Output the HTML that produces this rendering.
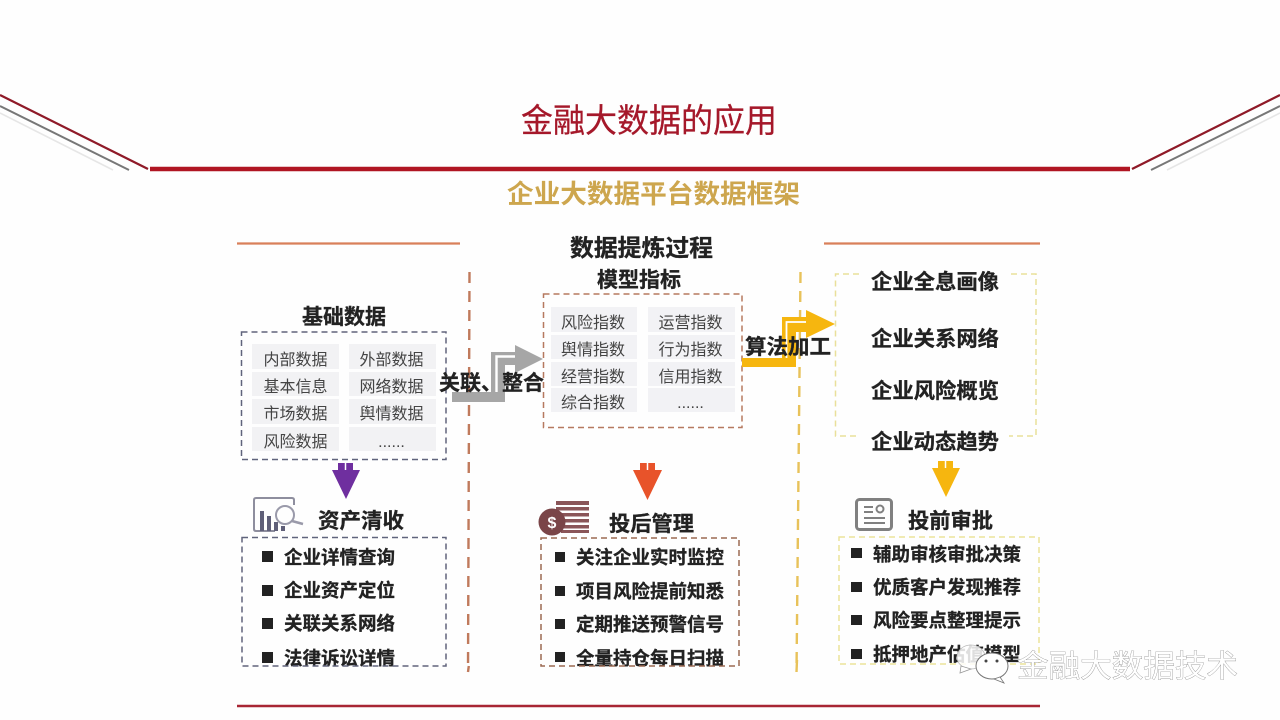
<!DOCTYPE html>
<html lang="zh"><head><meta charset="utf-8"><style>
html,body{margin:0;padding:0;background:#fefefe;width:1280px;height:720px;overflow:hidden}
svg{display:block;filter:blur(.35px)}
text{font-family:"Liberation Sans","Noto Sans CJK SC",sans-serif;fill:#222}
.b{font-weight:700}
.c{font-size:16px;fill:#444;font-weight:400;text-anchor:middle}
.h{font-size:21px;font-weight:700;fill:#222;stroke:#222;stroke-width:.3}
.l{font-size:18.5px;font-weight:700;fill:#222;stroke:#222;stroke-width:.3}
.d{fill:none;stroke-width:1.500;stroke-dasharray:6 4}
</style></head><body>
<svg width="1280" height="720" viewBox="0 0 1280 720" xmlns="http://www.w3.org/2000/svg">
<rect width="1280" height="720" fill="#fefefe"/>
<!-- header lines -->
<g fill="none">
<line x1="150" y1="169" x2="1130" y2="169" stroke="#b01522" stroke-width="4.500"/>
<line x1="0" y1="95" x2="148" y2="169" stroke="#8f1a28" stroke-width="2.200"/>
<line x1="1280" y1="95" x2="1132" y2="169" stroke="#8f1a28" stroke-width="2.200"/>
<line x1="0" y1="106" x2="129" y2="170" stroke="#777" stroke-width="2"/>
<line x1="1280" y1="106" x2="1151" y2="170" stroke="#777" stroke-width="2"/>
<line x1="0" y1="113" x2="113" y2="170" stroke="#e6e6e6" stroke-width="1.600"/>
<line x1="1280" y1="113" x2="1167" y2="170" stroke="#e6e6e6" stroke-width="1.600"/>
<line x1="237" y1="243.500" x2="460" y2="243.500" stroke="#d9805a" stroke-width="2.200"/>
<line x1="824" y1="243.500" x2="1040" y2="243.500" stroke="#d9805a" stroke-width="2.200"/>
<line x1="237" y1="706" x2="1040" y2="706" stroke="#a82634" stroke-width="2.600"/>
<line x1="469.500" y1="272" x2="468" y2="672" stroke="#c07a5c" stroke-width="2.400" stroke-dasharray="11 8"/>
<line x1="800.500" y1="272" x2="796.500" y2="672" stroke="#e8c25a" stroke-width="2.400" stroke-dasharray="11 8"/>
</g>
<text x="521" y="132" font-size="33" textLength="256" lengthAdjust="spacingAndGlyphs" style="fill:#a5182a;stroke:#a5182a;stroke-width:.25">金融大数据的应用</text>
<text x="507" y="203" font-size="26" class="b" style="fill:#cda64e" textLength="293" lengthAdjust="spacingAndGlyphs">企业大数据平台数据框架</text>
<text x="570" y="256" font-size="23.500" class="b" style="stroke:#222;stroke-width:.3" textLength="143" lengthAdjust="spacingAndGlyphs">数据提炼过程</text>
<text x="597" y="287" class="h" textLength="84" lengthAdjust="spacingAndGlyphs">模型指标</text>
<text x="302" y="324" class="h" textLength="84" lengthAdjust="spacingAndGlyphs">基础数据</text>

<!-- basic data cells -->
<g fill="#f2f2f4">
<rect x="252" y="344" width="87" height="25"/><rect x="349" y="344" width="87" height="25"/>
<rect x="252" y="372" width="87" height="24"/><rect x="349" y="372" width="87" height="24"/>
<rect x="252" y="399" width="87" height="25"/><rect x="349" y="399" width="87" height="25"/>
<rect x="252" y="427" width="87" height="24"/><rect x="349" y="427" width="87" height="24"/>
</g>
<text class="c" x="295.500" y="365">内部数据</text><text class="c" x="391.500" y="365">外部数据</text>
<text class="c" x="295.500" y="392">基本信息</text><text class="c" x="391.500" y="392">网络数据</text>
<text class="c" x="295.500" y="419">市场数据</text><text class="c" x="391.500" y="419">舆情数据</text>
<text class="c" x="295.500" y="447">风险数据</text><text class="c" x="391.500" y="447">......</text>
<rect x="241.500" y="332" width="204.500" height="127.500" class="d" stroke="#60647c"/>

<!-- model cells -->
<g fill="#f2f2f5">
<rect x="551" y="307" width="86" height="25"/><rect x="648" y="307" width="87" height="25"/>
<rect x="551" y="335" width="86" height="24"/><rect x="648" y="335" width="87" height="24"/>
<rect x="551" y="362" width="86" height="24"/><rect x="648" y="362" width="87" height="24"/>
<rect x="551" y="388" width="86" height="24"/><rect x="648" y="388" width="87" height="24"/>
</g>
<text class="c" x="593" y="328">风险指数</text><text class="c" x="690.500" y="328">运营指数</text>
<text class="c" x="593" y="355">舆情指数</text><text class="c" x="690.500" y="355">行为指数</text>
<text class="c" x="593" y="382">经营指数</text><text class="c" x="690.500" y="382">信用指数</text>
<text class="c" x="593" y="408">综合指数</text><text class="c" x="690.500" y="408">......</text>
<rect x="543.500" y="294" width="198.500" height="133.500" class="d" stroke="#b5795f"/>

<!-- gray arrow -->
<polygon points="452,402 505,402 505,365 515,365 515,373 543,359 515,345 515,352 491,352 491,392 452,392" fill="#a6a6a6"/>
<polyline points="496.500,392 496.500,356.500 515,356.500" fill="none" stroke="#fff" stroke-width="2.400"/>
<text x="439" y="390" class="h" textLength="105" lengthAdjust="spacingAndGlyphs">关联、整合</text>

<!-- yellow arrow -->
<polygon points="742,367 796,367 796,332 806,332 806,338 835,324 806,310 806,317 782,317 782,358 742,358" fill="#f6b60f"/>
<polyline points="786.500,358 786.500,322 806,322" fill="none" stroke="#fff" stroke-width="1.800"/>
<text x="745" y="354" class="h" textLength="86" lengthAdjust="spacingAndGlyphs">算法加工</text>

<!-- right box -->
<path d="M859 274 H835.500 V436 H859 M1011 274 H1036 V436 H1009" class="d" stroke="#e9e09a" stroke-dasharray="5 4" stroke-width="1.100"/>
<text x="871" y="289" class="h" textLength="128" lengthAdjust="spacingAndGlyphs">企业全息画像</text>
<text x="871" y="346" class="h" textLength="128" lengthAdjust="spacingAndGlyphs">企业关系网络</text>
<text x="871" y="398" class="h" textLength="128" lengthAdjust="spacingAndGlyphs">企业风险概览</text>
<text x="871" y="449" class="h" textLength="128" lengthAdjust="spacingAndGlyphs">企业动态趋势</text>

<!-- down arrows -->
<polygon points="338,463 353,463 353,470 360,470 346,499 332,470 338,470" fill="#6f2f9f"/>
<line x1="345.500" y1="463" x2="345.500" y2="470" stroke="#fff" stroke-width="1.500"/>
<polygon points="640,463 655,463 655,470 662,470 647.500,500 633,470 640,470" fill="#e8532a"/>
<line x1="647.500" y1="463" x2="647.500" y2="470" stroke="#fff" stroke-width="1.500"/>
<polygon points="938,461 953,461 953,468 960,468 946,497 932,468 938,468" fill="#f6b60f"/>
<line x1="945.500" y1="461" x2="945.500" y2="468" stroke="#fff" stroke-width="1.500"/>

<!-- icons -->
<g>
<path d="M275 531 H256 Q254 531 254 529 V500 Q254 498 256 498 H292 Q294 498 294 500 V505" fill="none" stroke="#8e8e9e" stroke-width="2"/>
<g fill="#5f5f78"><rect x="260" y="511" width="4" height="20"/><rect x="267" y="516" width="4" height="15"/><rect x="274" y="522" width="4" height="9"/><rect x="281" y="526" width="4" height="5"/></g>
<circle cx="285" cy="515" r="9" fill="#fefefe" stroke="#9a9aaa" stroke-width="2"/>
<line x1="292" y1="521" x2="303" y2="524" stroke="#9a9aaa" stroke-width="2.500"/>
</g>
<g fill="#8a5558">
<rect x="556" y="501" width="33" height="4"/><rect x="556" y="507" width="33" height="3.500"/><rect x="561" y="513" width="28" height="3.500"/><rect x="564" y="519" width="25" height="3.500"/><rect x="564" y="525" width="25" height="3.500"/><rect x="561" y="530" width="28" height="3"/>
<circle cx="552" cy="522" r="13.500" fill="#7a4548"/>
</g>
<text x="552" y="528" font-size="16" class="b" text-anchor="middle" style="fill:#fff">$</text>
<g fill="none" stroke="#808080">
<rect x="856.500" y="499.500" width="35" height="30" rx="3" stroke-width="3"/>
<path d="M864 507 H873 M864 512 H873 M864 518 H885 M864 523 H885" stroke-width="2"/>
<circle cx="880" cy="509" r="3.500" stroke-width="2"/>
</g>
<text x="318" y="528" class="h" textLength="86" lengthAdjust="spacingAndGlyphs">资产清收</text>
<text x="609" y="531" class="h" textLength="85" lengthAdjust="spacingAndGlyphs">投后管理</text>
<text x="908" y="528" class="h" textLength="85" lengthAdjust="spacingAndGlyphs">投前审批</text>

<!-- bullets -->
<g fill="#222">
<rect x="262" y="551" width="11" height="11"/><rect x="262" y="585" width="11" height="11"/><rect x="262" y="618" width="11" height="11"/><rect x="262" y="652" width="11" height="11"/>
<rect x="555" y="552" width="10" height="10"/><rect x="555" y="586" width="10" height="10"/><rect x="555" y="619" width="10" height="10"/><rect x="555" y="652" width="10" height="10"/>
<rect x="851" y="548" width="11" height="10"/><rect x="851" y="582" width="11" height="10"/><rect x="851" y="615" width="11" height="10"/><rect x="851" y="649" width="11" height="10"/>
</g>
<text x="284" y="564" class="l" textLength="111" lengthAdjust="spacingAndGlyphs">企业详情查询</text>
<text x="284" y="597" class="l" textLength="111" lengthAdjust="spacingAndGlyphs">企业资产定位</text>
<text x="284" y="630" class="l" textLength="111" lengthAdjust="spacingAndGlyphs">关联关系网络</text>
<text x="284" y="665" class="l" textLength="111" lengthAdjust="spacingAndGlyphs">法律诉讼详情</text>
<text x="576" y="564" class="l" textLength="148" lengthAdjust="spacingAndGlyphs">关注企业实时监控</text>
<text x="576" y="598" class="l" textLength="148" lengthAdjust="spacingAndGlyphs">项目风险提前知悉</text>
<text x="576" y="631" class="l" textLength="148" lengthAdjust="spacingAndGlyphs">定期推送预警信号</text>
<text x="576" y="665" class="l" textLength="148" lengthAdjust="spacingAndGlyphs">全量持仓每日扫描</text>
<text x="873" y="561" class="l" textLength="148" lengthAdjust="spacingAndGlyphs">辅助审核审批决策</text>
<text x="873" y="594" class="l" textLength="148" lengthAdjust="spacingAndGlyphs">优质客户发现推荐</text>
<text x="873" y="627" class="l" textLength="148" lengthAdjust="spacingAndGlyphs">风险要点整理提示</text>
<text x="873" y="661" class="l" textLength="148" lengthAdjust="spacingAndGlyphs">抵押地产估值模型</text>
<rect x="236" y="666.500" width="810" height="9" fill="#fefefe"/>
<rect x="242" y="537.500" width="204" height="128.500" class="d" stroke="#60647c"/>
<rect x="541" y="538" width="198" height="128" class="d" stroke="#9b6a52"/>
<rect x="839" y="537" width="200" height="127" class="d" stroke="#ece39a" stroke-width="1.100" stroke-dasharray="5 4"/>
<line x1="468.800" y1="666" x2="468" y2="672" stroke="#c07a5c" stroke-width="2.400"/>
<line x1="797" y1="660" x2="796.500" y2="672" stroke="#e8c25a" stroke-width="2.400"/>

<!-- watermark -->
<ellipse cx="971" cy="657" rx="14" ry="12" fill="#fff" fill-opacity=".85" stroke="#bbb" stroke-width=".8"/>
<path d="M961 666 L960 673 L971 669Z" fill="#fff" stroke="#999" stroke-width=".8"/>
<ellipse cx="992" cy="666" rx="16" ry="13" fill="#fff" stroke="#777" stroke-width="1"/>
<path d="M1000 677 L1004 683 L994 679Z" fill="#fff" stroke="#777" stroke-width=".8"/>
<g fill="#444"><circle cx="986" cy="661" r="1.500"/><circle cx="997" cy="661" r="1.500"/></g>
<text x="1017" y="677" font-size="31" textLength="221" lengthAdjust="spacingAndGlyphs" style="fill:#fff;stroke:#777;stroke-width:.6;paint-order:stroke">金融大数据技术</text>
</svg>
</body></html>
